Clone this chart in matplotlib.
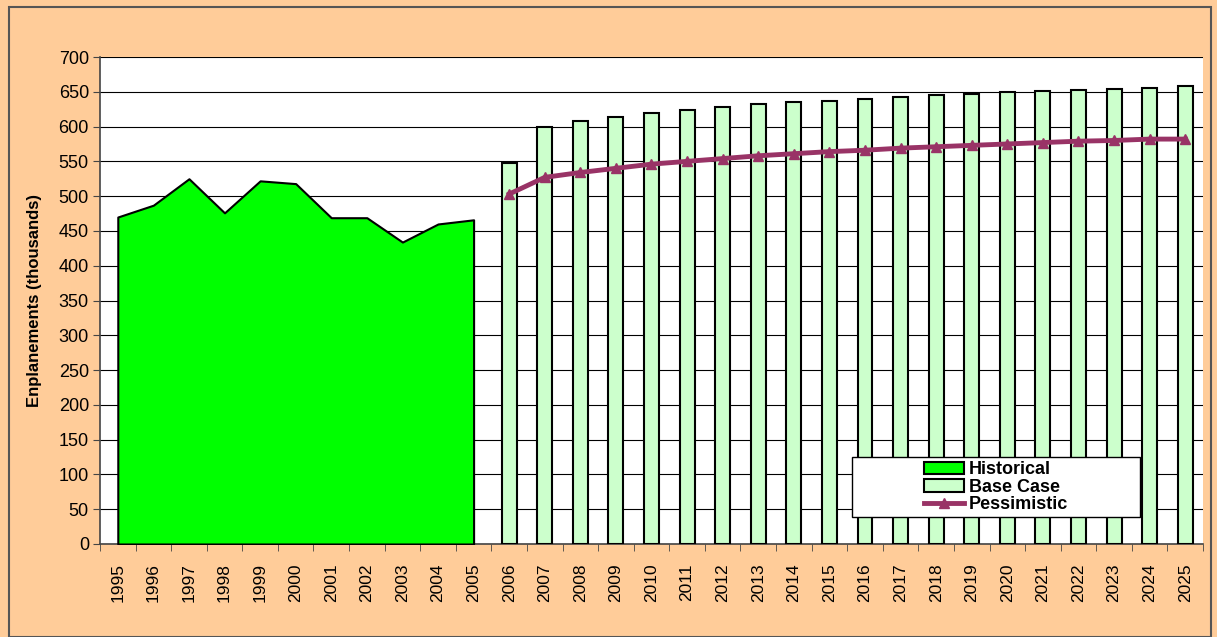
import numpy as np
import matplotlib
matplotlib.use('Agg')
import matplotlib.pyplot as plt
from matplotlib.patches import Rectangle

plt.rcParams['font.family'] = ['Liberation Sans', 'DejaVu Sans']

# data
years = [str(y) for y in range(1995, 2026)]
hist_years = years[:11]
historical = [470, 487, 525, 476, 522, 518, 469, 469, 434, 460, 466]
fc_years = years[11:]
base_case = [547, 600, 608, 614, 619, 624, 628, 632, 635, 637,
             640, 643, 645, 647, 649, 651, 653, 654, 656, 658]
pessimistic = [503, 527, 534, 540, 546, 550, 554, 558, 561, 564,
               566, 569, 571, 573, 575, 577, 579, 580, 582, 582]

fig = plt.figure(figsize=(12.17, 6.37), dpi=100)
fig.patch.set_facecolor('#FFCC99')
# outer border of the chart area
fig.patches.append(Rectangle((9/1217, 0), (1211-9)/1217, 1-7/637, transform=fig.transFigure,
                             fill=False, edgecolor='#555555', linewidth=1.5))

ax = fig.add_axes([100/1217, 1-544/637, (1203-100)/1217, (544-57)/637])
ax.set_facecolor('white')

x_all = np.arange(len(years))
x_hist = x_all[:len(hist_years)]
x_fc = x_all[len(hist_years):]

h1 = ax.fill_between(x_hist, 0, historical, facecolor='#00FF00', edgecolor='black',
                     linewidth=1.5, zorder=3, label='Historical')
h2 = ax.bar(x_fc, base_case, width=0.42, color='#CCFFCC', edgecolor='black',
            linewidth=1.5, zorder=3, label='Base Case')
h3, = ax.plot(x_fc, pessimistic, color='#993366', linewidth=3.5, marker='^',
              markersize=7, zorder=4, label='Pessimistic')

ax.set_ylim(0, 700)
ax.set_xlim(-0.5, len(years) - 0.5)
ax.set_yticks(np.arange(0, 701, 50))
ax.yaxis.grid(True, color='black', linewidth=0.8, zorder=0)
ax.set_axisbelow(True)

ax.set_xticks(x_all)
ax.set_xticklabels(years, rotation=90, fontsize=12.5)
ax.set_xticks(np.arange(-0.5, len(years), 1), minor=True)
ax.tick_params(axis='x', which='major', length=0, pad=14)
ax.tick_params(axis='x', which='minor', length=5, direction='out', color='#444444')
ax.tick_params(axis='y', length=5, direction='out', color='#444444', labelsize=13, pad=3)

for s in ['top', 'right']:
    ax.spines[s].set_visible(False)
for s in ['left', 'bottom']:
    ax.spines[s].set_color('#444444')
    ax.spines[s].set_linewidth(1.2)

ax.set_ylabel('Enplanements (thousands)', fontsize=12, fontweight='bold')
ax.yaxis.set_label_coords((42 - 100) / 1103, 0.5)

# legend box drawn separately so it can be wider than its contents
ax.add_patch(Rectangle((0.682, 0.055), 0.261, 0.124, transform=ax.transAxes,
                       facecolor='white', edgecolor='black', linewidth=1.0, zorder=9))
leg = ax.legend([h1, h2, h3], ['Historical', 'Base Case', 'Pessimistic'],
                loc='center', bbox_to_anchor=(0.8125, 0.117), frameon=False,
                prop={'weight': 'bold', 'size': 13}, labelspacing=0.02,
                handlelength=2.2, handletextpad=0.3, borderpad=0, borderaxespad=0)
leg.set_zorder(10)

fig.savefig('out.png', dpi=100, facecolor=fig.get_facecolor())
